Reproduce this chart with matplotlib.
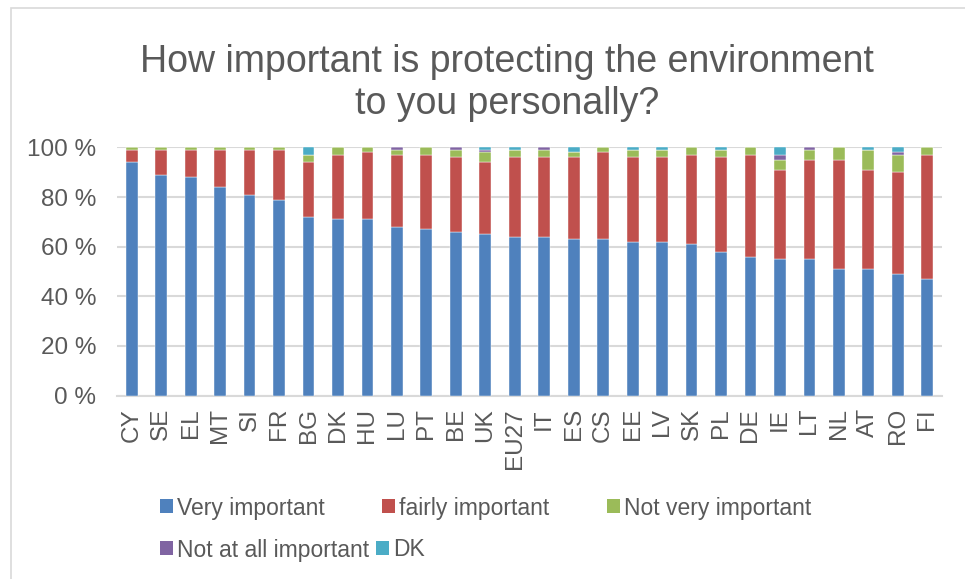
import matplotlib
matplotlib.use("Agg")
import matplotlib.pyplot as plt
from matplotlib.patches import Patch, Rectangle
import numpy as np

plt.rcParams['font.family'] = ['Liberation Sans', 'DejaVu Sans']

countries = ["CY", "SE", "EL", "MT", "SI", "FR", "BG", "DK", "HU", "LU", "PT", "BE", "UK", "EU27",
             "IT", "ES", "CS", "EE", "LV", "SK", "PL", "DE", "IE", "LT", "NL", "AT", "RO", "FI"]

very_important = [94, 89, 88, 84, 81, 79, 72, 71, 71, 68, 67, 66, 65, 64,
                  64, 63, 63, 62, 62, 61, 58, 56, 55, 55, 51, 51, 49, 47]
fairly_important = [5, 10, 11, 15, 18, 20, 22, 26, 27, 29, 30, 30, 29, 32,
                    32, 33, 35, 34, 34, 36, 38, 41, 36, 40, 44, 40, 41, 50]
not_very_important = [1, 1, 1, 1, 1, 1, 3, 3, 2, 2, 3, 3, 4, 3,
                      3, 2, 2, 3, 3, 3, 3, 3, 4, 4, 5, 8, 7, 3]
not_at_all = [0, 0, 0, 0, 0, 0, 0, 0, 0, 1, 0, 1, 1, 0,
              1, 0, 0, 0, 0, 0, 0, 0, 2, 1, 0, 0, 1, 0]
dk = [0, 0, 0, 0, 0, 0, 3, 0, 0, 0, 0, 0, 1, 1,
      0, 2, 0, 1, 1, 0, 1, 0, 3, 0, 0, 1, 2, 0]

series = [
    ("Very important", very_important, "#4F81BD"),
    ("fairly important", fairly_important, "#C0504D"),
    ("Not very important", not_very_important, "#9BBB59"),
    ("Not at all important", not_at_all, "#8064A2"),
    ("DK", dk, "#4BACC6"),
]

text_col = "#595959"
grid_col = "#D9D9D9"

fig = plt.figure(figsize=(9.65, 5.79), dpi=100)
ax = fig.add_axes([117 / 965, 1 - 395.5 / 579, 825 / 965, 248 / 579])

x = np.arange(len(countries))
bottom = np.zeros(len(countries))
for name, vals, col in series:
    vals = np.array(vals, dtype=float)
    ax.bar(x, vals, 0.4, bottom=bottom, color=col, edgecolor="white", linewidth=0.3, zorder=3)
    bottom += vals

ax.set_xlim(-0.5, len(countries) - 0.5)
ax.set_ylim(0, 100)
ax.set_yticks(range(0, 101, 20))
ax.set_yticklabels([f"{v} %" for v in range(0, 101, 20)])
ax.set_xticks(x)
ax.set_xticklabels(countries, rotation=90)
ax.tick_params(axis="both", length=0, labelsize=17.5, colors=text_col)
ax.tick_params(axis="y", pad=15)
ax.tick_params(axis="x", pad=9)
ax.grid(axis="y", color=grid_col, linewidth=1.5, zorder=0)
for s in ["top", "right", "left"]:
    ax.spines[s].set_visible(False)
ax.spines["bottom"].set_color(grid_col)
ax.spines["bottom"].set_linewidth(1.5)

fig.text(507 / 965, 1 - 83 / 579, "How important is protecting the environment\nto you personally?",
         ha="center", va="center", fontsize=27, color=text_col, linespacing=1.2)

# chart area border
fig.patches.append(Rectangle((11 / 965, -0.1), 1.2, 1 - 7.5 / 579 + 0.1, transform=fig.transFigure,
                             fill=False, edgecolor=grid_col, linewidth=1.2))

handles = [Patch(facecolor=c, label=n) for n, _, c in series]
leg_kw = dict(frameon=False, fontsize=16.5, labelcolor=text_col, handlelength=0.55, handleheight=0.55,
              handletextpad=0.2, borderpad=0, borderaxespad=0)
fig.legend(handles=handles[:3], ncol=3, columnspacing=2.5, loc="center left",
           bbox_to_anchor=(160 / 965, 1 - 508 / 579), **leg_kw)
fig.legend(handles=handles[3:], ncol=2, columnspacing=0.3, loc="center left",
           bbox_to_anchor=(160 / 965, 1 - 550 / 579), **leg_kw)

fig.savefig("out.png", dpi=100)
